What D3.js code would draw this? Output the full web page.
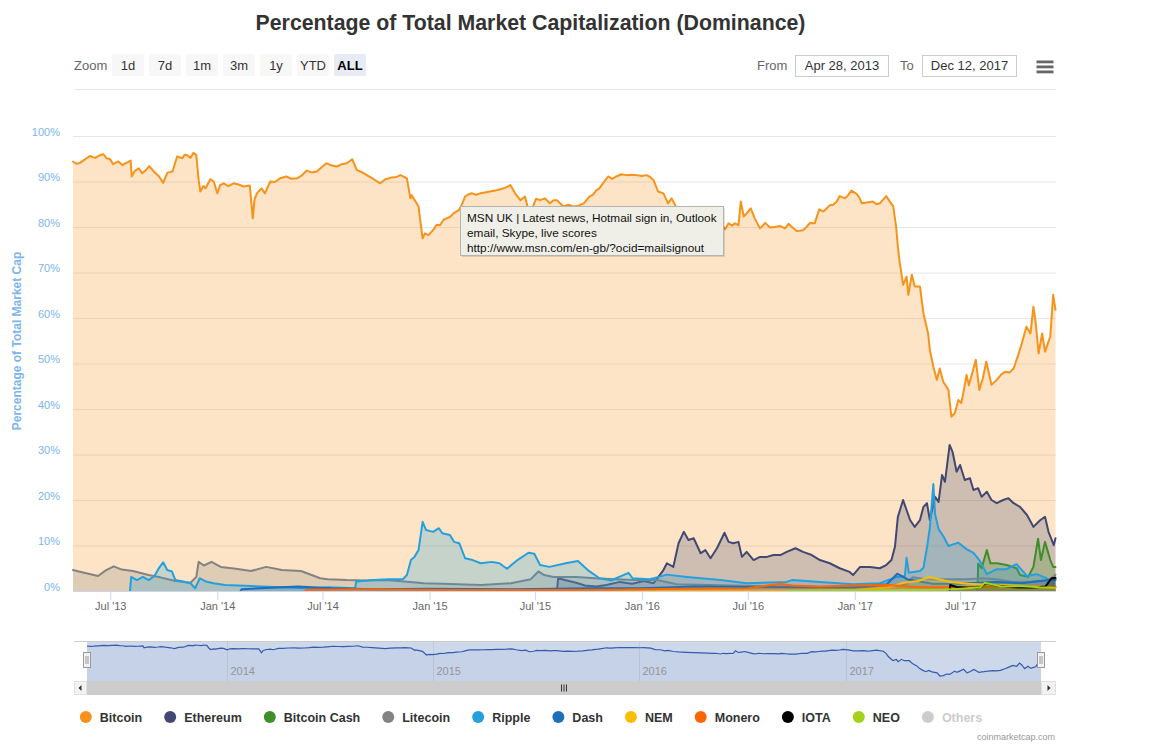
<!DOCTYPE html>
<html><head><meta charset="utf-8">
<script src="https://cdn.jsdelivr.net/npm/d3@7"></script>
<style>
body{margin:0;background:#fff;}
svg{display:block;font-family:"Liberation Sans",Arial,Helvetica,sans-serif;}
</style></head><body>
<svg id="c" width="1152" height="745"></svg>
<script>
// ---------------- DATA ----------------
const categories = ["Bitcoin","Ethereum","Bitcoin Cash","Litecoin","Ripple","Dash","NEM","Monero","IOTA","NEO","Others"];
const hiddenCategories = ["Others"];
const yTickValues = [0,10,20,30,40,50,60,70,80,90,100];
const xTickDates = ["2013-07-01","2014-01-01","2014-07-01","2015-01-01","2015-07-01","2016-01-01","2016-07-01","2017-01-01","2017-07-01"];
const xTickLabels = ["Jul '13","Jan '14","Jul '14","Jan '15","Jul '15","Jan '16","Jul '16","Jan '17","Jul '17"];
const navYearDates = ["2014-01-01","2015-01-01","2016-01-01","2017-01-01"];
const navYearLabels = ["2014","2015","2016","2017"];
const zoomButtons = ["1d","7d","1m","3m","1y","YTD","ALL"];
const selectedZoom = "ALL";
const rangeFrom = "Apr 28, 2013";
const rangeTo = "Dec 12, 2017";
const dateDomain = ["2013-04-28","2017-12-12"];
const tooltipLines = ["MSN UK | Latest news, Hotmail sign in, Outlook","email, Skype, live scores","http://www.msn.com/en-gb/?ocid=mailsignout"];

const bitcoin = [["2013-04-28",94.4],["2013-05-04",93.9],["2013-05-10",94.1],["2013-05-18",94.8],["2013-05-27",95.6],["2013-06-05",95.2],["2013-06-12",95.7],["2013-06-19",96.0],["2013-06-25",95.1],["2013-07-01",94.9],["2013-07-06",93.8],["2013-07-15",94.4],["2013-07-22",93.6],["2013-07-27",94.0],["2013-08-05",94.6],["2013-08-07",91.1],["2013-08-12",92.3],["2013-08-19",92.9],["2013-08-25",91.8],["2013-09-01",92.6],["2013-09-06",93.4],["2013-09-14",92.2],["2013-09-23",91.1],["2013-09-30",89.7],["2013-10-07",91.9],["2013-10-16",92.2],["2013-10-24",95.5],["2013-11-02",95.1],["2013-11-06",95.9],["2013-11-10",95.8],["2013-11-16",95.2],["2013-11-21",96.3],["2013-11-26",95.8],["2013-11-30",90.3],["2013-12-03",87.8],["2013-12-08",89.0],["2013-12-12",88.5],["2013-12-20",90.5],["2013-12-26",90.0],["2014-01-01",87.4],["2014-01-06",89.2],["2014-01-12",89.6],["2014-01-20",89.0],["2014-01-29",89.6],["2014-02-08",89.3],["2014-02-15",88.9],["2014-02-26",89.1],["2014-03-03",81.9],["2014-03-06",86.0],["2014-03-10",87.4],["2014-03-18",88.5],["2014-03-24",87.4],["2014-04-02",90.0],["2014-04-10",89.9],["2014-04-19",90.7],["2014-04-30",91.1],["2014-05-08",90.6],["2014-05-18",90.7],["2014-05-26",91.3],["2014-06-04",92.4],["2014-06-12",92.0],["2014-06-21",92.2],["2014-07-01",93.3],["2014-07-08",94.0],["2014-07-17",93.5],["2014-07-26",93.3],["2014-08-03",93.8],["2014-08-12",94.0],["2014-08-21",94.9],["2014-08-29",92.5],["2014-09-06",92.1],["2014-09-15",91.4],["2014-09-27",90.5],["2014-10-08",89.6],["2014-10-17",90.5],["2014-10-28",90.9],["2014-11-05",91.0],["2014-11-12",91.4],["2014-11-23",90.7],["2014-11-29",86.3],["2014-12-01",87.0],["2014-12-07",85.8],["2014-12-13",84.5],["2014-12-20",77.5],["2014-12-24",78.6],["2014-12-30",78.2],["2015-01-07",79.3],["2015-01-13",80.5],["2015-01-19",80.4],["2015-01-25",81.6],["2015-01-30",81.9],["2015-02-05",82.2],["2015-02-11",83.0],["2015-02-20",83.7],["2015-02-25",84.8],["2015-03-03",86.7],["2015-03-09",87.2],["2015-03-15",87.4],["2015-03-22",87.1],["2015-03-29",87.4],["2015-04-06",87.6],["2015-04-15",87.8],["2015-04-24",88.0],["2015-05-02",88.3],["2015-05-11",88.6],["2015-05-20",89.2],["2015-05-28",87.4],["2015-06-06",85.9],["2015-06-14",86.7],["2015-06-20",83.7],["2015-06-28",84.6],["2015-07-03",86.2],["2015-07-10",85.9],["2015-07-18",86.3],["2015-07-27",85.2],["2015-08-02",85.9],["2015-08-08",85.9],["2015-08-19",84.5],["2015-08-28",84.9],["2015-09-05",84.5],["2015-09-14",84.7],["2015-09-23",85.2],["2015-10-03",86.7],["2015-10-09",87.1],["2015-10-15",88.1],["2015-10-20",88.5],["2015-10-26",89.6],["2015-11-04",91.1],["2015-11-11",90.6],["2015-11-18",91.1],["2015-11-27",91.6],["2015-12-06",91.4],["2015-12-15",91.5],["2015-12-23",91.4],["2016-01-01",91.2],["2016-01-09",91.4],["2016-01-15",91.0],["2016-01-21",90.3],["2016-01-29",87.8],["2016-02-07",87.4],["2016-02-15",85.2],["2016-02-21",86.3],["2016-03-01",84.1],["2016-03-10",83.3],["2016-03-24",82.5],["2016-04-06",82.0],["2016-04-19",81.5],["2016-05-01",81.0],["2016-05-09",80.5],["2016-05-16",80.9],["2016-05-23",79.5],["2016-05-29",80.8],["2016-06-04",80.3],["2016-06-09",80.8],["2016-06-15",80.4],["2016-06-19",85.6],["2016-06-24",82.3],["2016-06-29",83.0],["2016-07-06",84.1],["2016-07-13",81.9],["2016-07-22",79.7],["2016-07-27",80.3],["2016-07-31",80.9],["2016-08-08",79.9],["2016-08-16",80.0],["2016-08-26",80.2],["2016-09-03",79.7],["2016-09-09",80.7],["2016-09-16",79.9],["2016-09-23",79.1],["2016-10-04",79.3],["2016-10-10",80.0],["2016-10-16",80.9],["2016-10-24",80.8],["2016-11-01",83.9],["2016-11-08",83.4],["2016-11-14",84.1],["2016-11-19",84.8],["2016-11-25",84.9],["2016-12-01",85.6],["2016-12-06",86.8],["2016-12-15",86.3],["2016-12-20",86.9],["2016-12-26",88.0],["2017-01-04",87.3],["2017-01-09",86.4],["2017-01-13",85.2],["2017-01-22",85.4],["2017-02-01",85.6],["2017-02-07",85.0],["2017-02-13",85.2],["2017-02-24",86.8],["2017-03-01",85.8],["2017-03-08",84.6],["2017-03-13",80.1],["2017-03-16",75.7],["2017-03-19",72.4],["2017-03-25",67.3],["2017-03-31",69.1],["2017-04-03",65.1],["2017-04-09",69.5],["2017-04-14",66.9],["2017-04-23",66.9],["2017-04-29",61.0],["2017-05-07",56.6],["2017-05-10",53.0],["2017-05-16",49.3],["2017-05-22",46.4],["2017-05-27",48.9],["2017-06-02",46.0],["2017-06-11",44.2],["2017-06-16",38.3],["2017-06-22",39.1],["2017-06-28",42.0],["2017-07-03",41.3],["2017-07-08",44.5],["2017-07-12",47.5],["2017-07-16",45.2],["2017-07-21",47.5],["2017-07-28",50.8],["2017-08-03",44.2],["2017-08-09",46.7],["2017-08-15",50.4],["2017-08-20",47.6],["2017-08-24",45.3],["2017-09-02",46.4],["2017-09-10",47.6],["2017-09-17",48.2],["2017-09-24",48.0],["2017-10-01",48.9],["2017-10-09",51.9],["2017-10-15",54.4],["2017-10-23",58.1],["2017-10-30",56.6],["2017-11-04",62.5],["2017-11-08",58.9],["2017-11-13",52.2],["2017-11-19",56.6],["2017-11-24",52.6],["2017-12-03",55.9],["2017-12-08",65.1],["2017-12-12",61.8]];

const ethereum = [["2015-08-08",0],["2015-08-10",2.8],["2015-08-25",2.3],["2015-09-10",1.8],["2015-09-25",1.2],["2015-10-15",1.0],["2015-11-01",1.3],["2015-11-24",2.0],["2015-12-15",1.6],["2016-01-05",2.2],["2016-01-21",1.7],["2016-02-07",4.6],["2016-02-13",6.1],["2016-02-24",5.3],["2016-03-04",10.5],["2016-03-13",13.0],["2016-03-21",11.2],["2016-03-30",11.6],["2016-04-11",8.3],["2016-04-19",9.0],["2016-04-28",7.2],["2016-05-09",9.4],["2016-05-22",12.8],["2016-05-29",10.8],["2016-06-06",10.5],["2016-06-15",10.8],["2016-06-21",7.5],["2016-06-29",8.6],["2016-07-11",6.8],["2016-07-22",7.5],["2016-08-03",7.5],["2016-08-14",7.9],["2016-08-26",7.9],["2016-09-06",8.6],["2016-09-21",9.4],["2016-10-04",8.6],["2016-10-19",7.9],["2016-11-02",6.8],["2016-11-19",6.1],["2016-12-06",5.0],["2016-12-23",4.2],["2016-12-29",3.5],["2017-01-10",5.3],["2017-01-27",5.3],["2017-02-13",5.0],["2017-02-24",5.7],["2017-03-05",6.8],["2017-03-11",9.7],["2017-03-16",16.3],["2017-03-25",20.0],["2017-03-31",17.8],["2017-04-06",15.6],["2017-04-14",14.1],["2017-04-23",15.6],["2017-04-29",18.5],["2017-05-05",19.3],["2017-05-10",15.6],["2017-05-19",20.7],["2017-05-25",19.6],["2017-05-31",25.5],["2017-06-05",24.0],["2017-06-13",32.1],["2017-06-18",30.6],["2017-06-25",26.2],["2017-07-01",27.7],["2017-07-09",24.4],["2017-07-18",24.8],["2017-07-24",22.2],["2017-08-01",22.6],["2017-08-07",20.7],["2017-08-16",21.8],["2017-08-24",20.0],["2017-09-02",19.3],["2017-09-13",20.0],["2017-09-22",20.4],["2017-10-01",19.3],["2017-10-12",18.5],["2017-10-24",16.7],["2017-11-04",14.1],["2017-11-16",15.6],["2017-11-24",16.3],["2017-11-30",13.0],["2017-12-09",10.1],["2017-12-12",11.6]];

const bitcoinCash = [["2017-07-31",0],["2017-08-01",6.0],["2017-08-07",5.0],["2017-08-16",9.0],["2017-08-22",6.1],["2017-09-02",6.1],["2017-09-19",5.7],["2017-10-06",5.0],["2017-10-12",3.5],["2017-10-26",3.1],["2017-11-04",5.3],["2017-11-12",11.5],["2017-11-17",6.8],["2017-11-24",10.8],["2017-12-03",6.8],["2017-12-08",5.3],["2017-12-12",5.3]];

const litecoin = [["2013-04-28",4.6],["2013-05-08",4.3],["2013-06-10",3.3],["2013-06-24",4.6],["2013-07-07",5.4],["2013-07-21",4.7],["2013-08-09",4.4],["2013-09-05",3.5],["2013-09-25",3.0],["2013-10-21",2.2],["2013-11-16",1.8],["2013-11-26",3.1],["2013-11-30",6.4],["2013-12-09",5.6],["2013-12-22",6.4],["2014-01-07",5.3],["2014-02-02",4.9],["2014-02-28",4.4],["2014-03-26",5.3],["2014-04-22",4.6],["2014-05-25",4.4],["2014-06-27",2.8],["2014-07-10",2.6],["2014-08-12",2.4],["2014-09-14",2.3],["2014-10-17",2.4],["2014-11-19",2.1],["2014-12-22",1.7],["2015-01-23",1.6],["2015-03-30",1.3],["2015-05-21",1.7],["2015-06-24",2.6],["2015-07-07",4.3],["2015-07-17",3.5],["2015-08-02",3.1],["2015-09-10",3.1],["2015-10-13",2.8],["2015-11-15",2.6],["2015-12-19",2.4],["2016-01-27",2.4],["2016-03-01",1.5],["2016-06-01",1.2],["2016-09-01",1.0],["2016-12-01",0.8],["2017-01-15",0.9],["2017-03-01",1.0],["2017-03-31",1.5],["2017-04-10",3.0],["2017-05-10",2.5],["2017-06-10",2.6],["2017-07-10",2.6],["2017-08-10",2.8],["2017-09-01",2.6],["2017-10-01",2.0],["2017-11-01",2.1],["2017-12-01",2.3],["2017-12-12",3.6]];

const ripple = [["2013-08-04",0],["2013-08-06",3.1],["2013-08-16",2.4],["2013-08-26",3.1],["2013-09-05",2.4],["2013-09-15",3.3],["2013-09-22",4.9],["2013-09-30",6.3],["2013-10-07",4.6],["2013-10-15",4.3],["2013-10-21",2.4],["2013-11-03",2.1],["2013-11-16",1.7],["2013-11-24",0.6],["2013-12-02",2.8],["2013-12-12",2.1],["2013-12-26",1.7],["2014-01-14",1.3],["2014-02-28",1.1],["2014-04-22",0.8],["2014-06-07",0.6],["2014-07-10",0.8],["2014-08-26",0.6],["2014-08-28",2.1],["2014-09-27",2.4],["2014-10-24",2.6],["2014-11-16",2.6],["2014-11-23",3.5],["2014-11-30",6.8],["2014-12-06",7.5],["2014-12-13",9.0],["2014-12-20",15.2],["2014-12-26",13.4],["2015-01-07",13.0],["2015-01-17",13.8],["2015-01-23",12.7],["2015-02-05",12.3],["2015-02-12",10.8],["2015-02-21",10.5],["2015-03-03",7.2],["2015-03-16",6.8],["2015-03-30",6.1],["2015-04-18",6.4],["2015-05-01",6.1],["2015-05-14",4.9],["2015-06-01",6.8],["2015-06-20",8.4],["2015-06-30",8.2],["2015-07-10",5.7],["2015-07-26",5.3],["2015-08-23",6.1],["2015-09-13",6.6],["2015-09-30",4.6],["2015-10-20",2.8],["2015-11-09",2.3],["2015-12-09",4.0],["2015-12-16",2.8],["2016-01-14",2.6],["2016-01-30",3.1],["2016-02-13",3.6],["2016-03-18",3.1],["2016-05-15",2.4],["2016-06-29",1.7],["2016-09-06",2.0],["2016-09-15",2.4],["2016-11-02",2.0],["2016-12-29",1.5],["2017-02-13",1.7],["2017-03-14",3.1],["2017-03-28",3.3],["2017-03-31",7.3],["2017-04-04",4.0],["2017-04-23",4.4],["2017-04-29",5.1],["2017-05-05",9.5],["2017-05-10",13.9],["2017-05-16",23.5],["2017-05-19",16.9],["2017-05-25",13.6],["2017-06-02",12.1],["2017-06-11",9.9],["2017-06-20",10.3],["2017-06-28",10.6],["2017-07-12",9.2],["2017-07-24",8.4],["2017-08-04",6.6],["2017-08-16",3.7],["2017-09-02",4.8],["2017-09-19",4.8],["2017-10-06",5.9],["2017-10-24",3.3],["2017-11-10",3.7],["2017-11-30",2.6],["2017-12-12",2.4]];

const dash = [["2014-02-10",0],["2014-02-12",0.4],["2014-05-20",1.0],["2014-07-15",0.6],["2014-10-01",0.4],["2015-01-01",0.5],["2015-06-01",0.4],["2015-10-01",0.6],["2016-01-01",0.6],["2016-04-01",1.0],["2016-07-01",0.9],["2016-10-01",0.8],["2017-01-01",0.8],["2017-02-25",1.5],["2017-03-15",3.8],["2017-04-01",2.6],["2017-05-15",1.6],["2017-07-01",1.6],["2017-09-01",2.0],["2017-10-15",1.7],["2017-11-15",2.2],["2017-12-12",2.6]];

const nem = [["2015-04-01",0.1],["2016-01-01",0.1],["2016-10-01",0.1],["2017-01-01",0.2],["2017-03-01",0.8],["2017-03-25",1.8],["2017-04-20",2.2],["2017-05-10",3.1],["2017-05-25",2.6],["2017-06-15",2.0],["2017-07-15",1.6],["2017-08-20",1.4],["2017-10-01",1.2],["2017-11-15",1.0],["2017-12-12",0.9]];

const monero = [["2014-06-01",0],["2014-06-05",0.3],["2014-09-01",0.4],["2015-01-01",0.3],["2015-06-01",0.2],["2015-11-01",0.3],["2016-03-01",0.5],["2016-07-01",0.6],["2016-08-25",1.6],["2016-09-15",1.2],["2016-11-01",1.0],["2017-01-01",1.2],["2017-03-01",1.3],["2017-04-15",0.9],["2017-06-01",0.8],["2017-08-01",0.9],["2017-10-01",1.1],["2017-12-12",1.0]];

const iota = [["2017-06-13",0],["2017-06-14",1.3],["2017-06-25",0.9],["2017-07-15",0.7],["2017-08-05",0.8],["2017-08-15",1.7],["2017-09-01",1.2],["2017-10-01",0.8],["2017-11-01",0.7],["2017-11-25",1.0],["2017-12-05",2.8],["2017-12-12",2.9]];

const neo = [["2016-09-08",0.05],["2017-06-01",0.3],["2017-07-01",0.5],["2017-08-05",0.8],["2017-08-12",1.8],["2017-08-25",1.5],["2017-09-10",1.0],["2017-10-15",1.1],["2017-11-15",0.8],["2017-12-12",0.7]];

const others = [];

// ---------------- STYLE ----------------
const seriesColors = ["#f7931a","#434873","#3e8e2a","#838383","#23a0dd","#1c6fb8","#fabd00","#ff6600","#000000","#a3d218","#cccccc"];
const seriesData = [bitcoin, ethereum, bitcoinCash, litecoin, ripple, dash, nem, monero, iota, neo, others];

const parse = d3.timeParse("%Y-%m-%d");
const svg = d3.select("#c");

const L = 73, R = 1056, T = 136, B = 591;
const x = d3.scaleTime().domain(dateDomain.map(parse)).range([L, 1055.5]);
const y = d3.scaleLinear().domain([0, 100]).range([B, T]);

const series = categories.map((name, i) => ({
  name, color: seriesColors[i], visible: !hiddenCategories.includes(name),
  data: seriesData[i].map(d => ({date: parse(d[0]), v: d[1]}))
}));

// Title
svg.append("text").attr("x", 530.5).attr("y", 30).attr("text-anchor", "middle")
  .attr("font-size", 21.3).attr("font-weight", "bold").attr("fill", "#333")
  .text("Percentage of Total Market Capitalization (Dominance)");

// Range selector
svg.append("text").attr("x", 74).attr("y", 70).attr("font-size", 13).attr("fill", "#666").text("Zoom");
const btnG = svg.append("g");
zoomButtons.forEach((b, i) => {
  const bx = 112 + i * 37;
  const sel = b === selectedZoom;
  btnG.append("rect").attr("x", bx).attr("y", 54).attr("width", 32).attr("height", 22).attr("rx", 2)
    .attr("fill", sel ? "#e6ebf5" : "#f7f7f7");
  btnG.append("text").attr("x", bx + 16).attr("y", 69.5).attr("text-anchor", "middle")
    .attr("font-size", 13).attr("font-weight", sel ? "bold" : "normal").attr("fill", sel ? "#000" : "#333").text(b);
});
svg.append("text").attr("x", 757).attr("y", 69.5).attr("font-size", 13).attr("fill", "#666").text("From");
svg.append("rect").attr("x", 795.5).attr("y", 55.5).attr("width", 93).attr("height", 21).attr("fill", "#fff").attr("stroke", "#ccc");
svg.append("text").attr("x", 842).attr("y", 70).attr("text-anchor", "middle").attr("font-size", 13).attr("fill", "#333").text(rangeFrom);
svg.append("text").attr("x", 900).attr("y", 69.5).attr("font-size", 13).attr("fill", "#666").text("To");
svg.append("rect").attr("x", 922.5).attr("y", 55.5).attr("width", 94).attr("height", 21).attr("fill", "#fff").attr("stroke", "#ccc");
svg.append("text").attr("x", 969.5).attr("y", 70).attr("text-anchor", "middle").attr("font-size", 13).attr("fill", "#333").text(rangeTo);
[60.5, 65.5, 70.5].forEach(yy => svg.append("rect").attr("x", 1036.5).attr("y", yy).attr("width", 17).attr("height", 2.8).attr("fill", "#666"));
svg.append("line").attr("x1", 74).attr("x2", R).attr("y1", 89.5).attr("y2", 89.5).attr("stroke", "#e6e6e6");

// Grid
const grid = svg.append("g").attr("transform", `translate(${L},0)`)
  .call(d3.axisLeft(y).tickValues(yTickValues).tickSize(-(R - L)).tickFormat(""));
grid.select(".domain").remove();
grid.selectAll("line").attr("stroke", "#e6e6e6");

// Series
const area = d3.area().x(d => x(d.date)).y0(y(0)).y1(d => y(d.v));
const line = d3.line().x(d => x(d.date)).y(d => y(d.v));
const sg = svg.append("g");
series.filter(s => s.visible && s.data.length).forEach(s => {
  sg.append("path").datum(s.data).attr("d", area).attr("fill", s.color).attr("fill-opacity", 0.25);
  sg.append("path").datum(s.data).attr("d", line).attr("fill", "none").attr("stroke", s.color)
    .attr("stroke-width", 2).attr("stroke-linejoin", "round").attr("stroke-linecap", "round");
});

// X axis
const xa = svg.append("g").attr("transform", `translate(0,${B})`)
  .call(d3.axisBottom(x).tickValues(xTickDates.map(parse)).tickSize(9).tickFormat((d, i) => xTickLabels[i]));
xa.select(".domain").remove();
xa.selectAll(".tick line").attr("stroke", "#ccd6eb");
xa.selectAll(".tick text").attr("fill", "#666").attr("font-size", 11).attr("dy", null).attr("y", 19)
  .style("font-family", "'Liberation Sans',Arial,sans-serif");
svg.append("line").attr("x1", L).attr("x2", R).attr("y1", B + 0.5).attr("y2", B + 0.5).attr("stroke", "#ccd6eb");

// Y axis labels
const ya = svg.append("g").attr("transform", `translate(60,0)`)
  .call(d3.axisLeft(y).tickValues(yTickValues).tickSize(0).tickPadding(0).tickFormat(d => d + "%"));
ya.select(".domain").remove();
ya.selectAll(".tick text").attr("fill", "#7cb5ec").attr("font-size", 11).attr("dy", null).attr("y", -1)
  .style("font-family", "'Liberation Sans',Arial,sans-serif");
svg.append("text").attr("transform", "translate(21,341) rotate(-90)").attr("text-anchor", "middle")
  .attr("font-size", 12).attr("font-weight", "bold").attr("fill", "#7cb5ec").text("Percentage of Total Market Cap");

// Navigator
const NL = 87, NR = 1041, NT = 641, NB = 681;
const xn = d3.scaleTime().domain(dateDomain.map(parse)).range([NL, NR]);
const bvals = series[0].data.map(d => d.v);
const yn = d3.scaleLinear().domain([d3.min(bvals), d3.max(bvals)]).range([676, 645]);
svg.append("rect").attr("x", NL).attr("y", NT).attr("width", NR - NL).attr("height", NB - NT).attr("fill", "rgba(102,133,194,0.32)");
navYearDates.forEach((d, i) => {
  const xx = Math.round(xn(parse(d))) + 0.5;
  svg.append("line").attr("x1", xx).attr("x2", xx).attr("y1", NT).attr("y2", NB).attr("stroke", "#c0c8dc");
  svg.append("text").attr("x", xx + 3).attr("y", 675).attr("font-size", 11).attr("fill", "#999").text(navYearLabels[i]);
});
svg.append("path").datum(series[0].data)
  .attr("d", d3.area().x(d => xn(d.date)).y0(NB).y1(d => yn(d.v)))
  .attr("fill", "#335cad").attr("fill-opacity", 0.05);
svg.append("path").datum(series[0].data)
  .attr("d", d3.line().x(d => xn(d.date)).y(d => yn(d.v)))
  .attr("fill", "none").attr("stroke", "#335cad").attr("stroke-width", 1.2);
svg.append("line").attr("x1", 74).attr("x2", R).attr("y1", NT + 0.5).attr("y2", NT + 0.5).attr("stroke", "#cccccc");
[NL, NR].forEach(hx => {
  svg.append("rect").attr("x", hx - 3.5).attr("y", 652.5).attr("width", 7).attr("height", 15)
    .attr("fill", "#f2f2f2").attr("stroke", "#999");
  [-1, 1].forEach(o => svg.append("line").attr("x1", hx + o).attr("x2", hx + o).attr("y1", 656).attr("y2", 664).attr("stroke", "#999"));
});
// Scrollbar
svg.append("rect").attr("x", 74).attr("y", 681).attr("width", R - 74).attr("height", 14).attr("fill", "#f2f2f2");
svg.append("rect").attr("x", NL).attr("y", 681).attr("width", NR - NL).attr("height", 14).attr("fill", "#cccccc");
svg.append("rect").attr("x", 74.5).attr("y", 681.5).attr("width", 12).attr("height", 13).attr("fill", "#f2f2f2").attr("stroke", "#e0e0e0");
svg.append("rect").attr("x", NR + 0.5).attr("y", 681.5).attr("width", R - NR - 1).attr("height", 13).attr("fill", "#f2f2f2").attr("stroke", "#e0e0e0");
svg.append("path").attr("d", "M78.5,688 L81.5,685 L81.5,691 Z").attr("fill", "#333");
svg.append("path").attr("d", "M1050.5,688 L1047.5,685 L1047.5,691 Z").attr("fill", "#333");
[-2.5, 0, 2.5].forEach(o => svg.append("line").attr("x1", 564 + o).attr("x2", 564 + o).attr("y1", 684.5).attr("y2", 691.5).attr("stroke", "#333"));

// Legend
const lg = svg.append("g");
const items = [];
series.forEach(s => {
  const g = lg.append("g");
  g.append("circle").attr("cx", 0).attr("cy", 717).attr("r", 6).attr("fill", s.visible ? s.color : "#cccccc");
  const t = g.append("text").attr("x", 14).attr("y", 721.5).attr("font-size", 12.5).attr("font-weight", "bold")
    .attr("fill", s.visible ? "#333" : "#cccccc").text(s.name);
  items.push({g, w: t.node().getComputedTextLength()});
});
let total = 0;
items.forEach((it, i) => { total += 14 + it.w + (i < items.length - 1 ? 28 : 0); });
let cx = 531 - (total + 6) / 2 + 6;
items.forEach(it => { it.g.attr("transform", `translate(${cx},0)`); cx += 14 + it.w + 28; });

// Credit
svg.append("text").attr("x", 1055).attr("y", 740).attr("text-anchor", "end").attr("font-size", 9).attr("fill", "#999").text("coinmarketcap.com");

// Native tooltip overlay
const tg = svg.append("g");
tg.append("rect").attr("x", 462).attr("y", 208).attr("width", 263).attr("height", 49).attr("fill", "rgba(0,0,0,0.12)");
tg.append("rect").attr("x", 460.5).attr("y", 206.5).attr("width", 263).attr("height", 49).attr("fill", "#efefe7").attr("stroke", "#b5b5ad");
tooltipLines.forEach((l, i) => tg.append("text").attr("x", 467).attr("y", 222 + i * 15).attr("font-size", 11.8).attr("fill", "#111").text(l));
</script>
</body></html>
